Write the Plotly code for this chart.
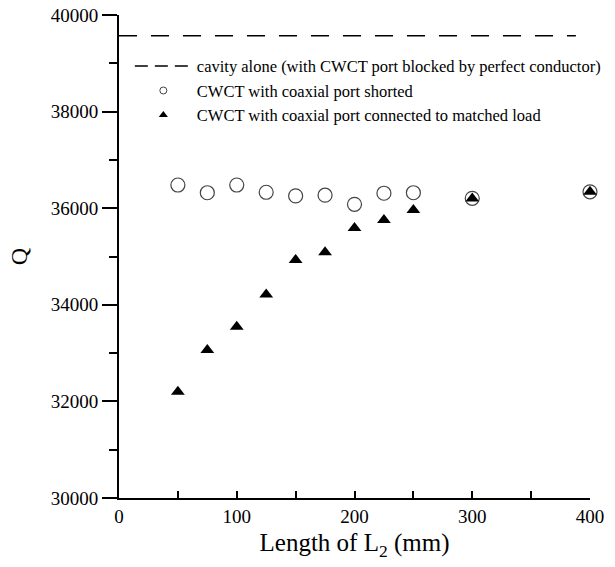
import plotly.graph_objects as go

# Data
length_L2 = [50, 75, 100, 125, 150, 175, 200, 225, 250, 300, 400]
q_shorted = [36480, 36320, 36480, 36330, 36255, 36270, 36080, 36310, 36320, 36205, 36340]
q_matched = [32200, 33065, 33545, 34215, 34930, 35090, 35590, 35755, 35965, 36200, 36340]
cavity_x = [0, 388]
cavity_q = [39570, 39570]

name_cavity = "cavity alone (with CWCT port blocked by perfect conductor)"
name_shorted = "CWCT with coaxial port shorted"
name_matched = "CWCT with coaxial port connected to matched load"

FONT = "Liberation Serif, Times New Roman, serif"

fig = go.Figure()

fig.add_trace(go.Scatter(
    x=cavity_x, y=cavity_q, mode="lines", name=name_cavity,
    line=dict(color="black", width=1.5, dash="18px,14px"),
    showlegend=False, cliponaxis=False, hoverinfo="skip"))

fig.add_trace(go.Scatter(
    x=length_L2, y=q_shorted, mode="markers", name=name_shorted,
    marker=dict(symbol="circle-open", size=14, color="#444444", line=dict(width=1.2, color="#444444")),
    showlegend=False, cliponaxis=False))

fig.add_trace(go.Scatter(
    x=length_L2, y=q_matched, mode="markers", name=name_matched,
    marker=dict(symbol="triangle-up", size=12, color="black"),
    showlegend=False, cliponaxis=False))

# legend-only entries (smaller symbols / shorter dashes as in the reference legend)
fig.add_trace(go.Scatter(
    x=[None], y=[None], mode="lines", name=name_cavity,
    line=dict(color="black", width=1.5, dash="13px,7px")))
fig.add_trace(go.Scatter(
    x=[None], y=[None], mode="markers", name=name_shorted,
    marker=dict(symbol="circle-open", size=7, color="#444444", line=dict(width=1, color="#444444"))))
fig.add_trace(go.Scatter(
    x=[None], y=[None], mode="markers", name=name_matched,
    marker=dict(symbol="triangle-up", size=8, color="black")))

fig.update_layout(
    width=615, height=567,
    margin=dict(l=119, r=25, t=15, b=69, autoexpand=False),
    paper_bgcolor="white", plot_bgcolor="white",
    font=dict(family=FONT, color="black", size=17),
    legend=dict(x=0.023, y=0.93, xanchor="left", yanchor="top", itemwidth=57,
                bgcolor="rgba(0,0,0,0)", font=dict(family=FONT, size=16.5, color="black")),
    showlegend=True,
)

fig.update_xaxes(
    range=[0, 400], showgrid=False, zeroline=False, automargin=False,
    showline=True, linecolor="black", linewidth=2,
    ticks="inside", ticklen=7, tickwidth=2, tickcolor="black",
    dtick=100, tick0=0, tickformat="d",
    minor=dict(dtick=50, ticks="inside", ticklen=7, tickwidth=2, tickcolor="black", showgrid=False),
    tickfont=dict(family=FONT, size=19),
    title=dict(text="Length of L<sub>2</sub> (mm)", font=dict(family=FONT, size=25), standoff=8),
)

fig.update_yaxes(
    range=[30000, 40000], showgrid=False, zeroline=False, automargin=False,
    showline=True, linecolor="black", linewidth=2,
    ticks="outside", ticklen=15, tickwidth=2, tickcolor="black",
    dtick=2000, tick0=30000, tickformat="d",
    minor=dict(dtick=1000, ticks="outside", ticklen=8, tickwidth=2, tickcolor="black", showgrid=False),
    tickfont=dict(family=FONT, size=19),
    title=dict(text="Q", font=dict(family=FONT, size=24), standoff=16),
)

fig.write_html("out.html", config={"displayModeBar": False},
               post_script="document.body.style.margin='0';")
